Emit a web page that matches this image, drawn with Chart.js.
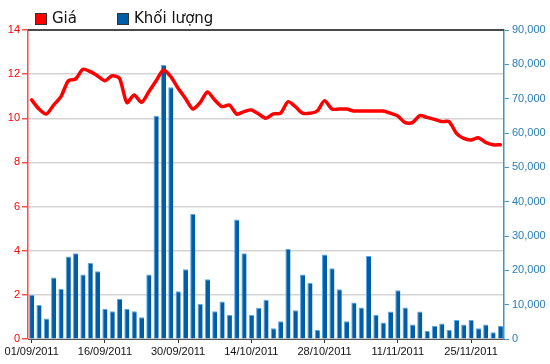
<!DOCTYPE html>
<html>
<head>
<meta charset="utf-8">
<script src="https://cdn.jsdelivr.net/npm/chart.js@4/dist/chart.umd.min.js"></script>
<style>
html,body{margin:0;padding:0;background:#fff;}
#wrap{width:550px;height:364px;position:relative;}
</style>
</head>
<body>
<div id="wrap"><canvas id="c" width="550" height="364"></canvas></div>
<script>
const dates = [
 "01/09/2011","05/09/2011","06/09/2011","07/09/2011","08/09/2011","09/09/2011",
 "12/09/2011","13/09/2011","14/09/2011","15/09/2011","16/09/2011",
 "19/09/2011","20/09/2011","21/09/2011","22/09/2011","23/09/2011",
 "26/09/2011","27/09/2011","28/09/2011","29/09/2011","30/09/2011",
 "03/10/2011","04/10/2011","05/10/2011","06/10/2011","07/10/2011",
 "10/10/2011","11/10/2011","12/10/2011","13/10/2011","14/10/2011",
 "17/10/2011","18/10/2011","19/10/2011","20/10/2011","21/10/2011",
 "24/10/2011","25/10/2011","26/10/2011","27/10/2011","28/10/2011",
 "31/10/2011","01/11/2011","02/11/2011","03/11/2011","04/11/2011",
 "07/11/2011","08/11/2011","09/11/2011","10/11/2011","11/11/2011",
 "14/11/2011","15/11/2011","16/11/2011","17/11/2011","18/11/2011",
 "21/11/2011","22/11/2011","23/11/2011","24/11/2011","25/11/2011",
 "28/11/2011","29/11/2011","30/11/2011","01/12/2011"
];
const priceLabel = "Giá";
const volumeLabel = "Khối lượng";
const price = [10.83,10.42,10.19,10.6,10.98,11.7,11.78,12.22,12.11,11.92,
 11.7,11.93,11.81,10.71,11.06,10.72,11.2,11.7,12.19,11.89,
 11.36,10.9,10.42,10.71,11.19,10.83,10.53,10.6,10.19,10.3,
 10.38,10.19,10.0,10.2,10.23,10.75,10.53,10.23,10.23,10.33,
 10.8,10.42,10.42,10.42,10.33,10.33,10.33,10.33,10.33,10.23,
 10.1,9.8,9.8,10.12,10.04,9.95,9.85,9.85,9.32,9.09,
 9.02,9.12,8.91,8.8,8.8];
const volume = [12800,9900,6000,17900,14600,24000,25000,18800,22200,19700,
 8800,8100,11700,8800,8100,6300,18800,65000,79800,73300,
 13900,20300,36500,10200,17400,8100,10900,7000,34800,25000,
 7000,9100,11400,3100,5200,26300,8400,18800,16400,2600,
 24600,20600,14500,5200,10600,9200,24200,7000,4800,8000,
 14200,9200,4200,8000,2300,3800,4500,2700,5500,4200,
 5500,3100,4200,2000,3800];
const labelStep = 10;

const RED = '#FF0000';
const BLUE = '#005DA6';
const AXISBLUE = '#3E95C6';

const frame = {
  id: 'frame',
  afterDatasetsDraw(chart) {
    const {ctx, chartArea: a} = chart;
    ctx.save();
    ctx.strokeStyle = '#4a4a4a';
    ctx.lineWidth = 2;
    ctx.beginPath();
    ctx.moveTo(a.left, a.top);
    ctx.lineTo(a.right, a.top);
    ctx.stroke();
    ctx.restore();
  },
  afterDraw(chart) {
    const ctx = chart.ctx;
    const items = [
      {x: 35, tx: 52, color: RED, text: chart.data.datasets[0].label},
      {x: 117, tx: 134, color: BLUE, text: chart.data.datasets[1].label}
    ];
    ctx.save();
    ctx.font = '15px "DejaVu Sans", sans-serif';
    ctx.textBaseline = 'middle';
    ctx.fillStyle = '#111';
    items.forEach(it => {
      ctx.fillStyle = it.color;
      ctx.fillRect(it.x, 13, 12, 12);
      ctx.strokeStyle = '#333';
      ctx.lineWidth = 1;
      ctx.strokeRect(it.x + 0.5, 13.5, 11, 11);
      ctx.fillStyle = '#111';
      ctx.fillText(it.text, it.tx, 19.5);
    });
    ctx.restore();
  }
};

new Chart(document.getElementById('c'), {
  data: {
    labels: dates,
    datasets: [
      {
        type: 'line',
        label: priceLabel,
        data: price,
        yAxisID: 'yP',
        borderColor: RED,
        backgroundColor: RED,
        borderWidth: 3.5,
        pointRadius: 0,
        tension: 0.25,
        borderJoinStyle: 'round',
        borderCapStyle: 'round',
        order: 0
      },
      {
        type: 'bar',
        label: volumeLabel,
        data: volume,
        yAxisID: 'yV',
        backgroundColor: BLUE,
        borderColor: '#5AA8E6',
        borderWidth: {top: 1, left: 1, right: 0, bottom: 0},
        borderSkipped: false,
        barPercentage: 0.7,
        categoryPercentage: 1,
        order: 1
      }
    ]
  },
  options: {
    responsive: false,
    animation: false,
    layout: {padding: {top: 30, left: 0, right: 0, bottom: 0}},
    plugins: {legend: {display: false}, tooltip: {enabled: false}},
    scales: {
      x: {
        type: 'category',
        offset: true,
        grid: {display: true, drawOnChartArea: false, offset: false, tickLength: 4, tickColor: '#333', lineWidth: 1},
        border: {display: true, color: '#555', width: 1},
        ticks: {
          autoSkip: false, maxRotation: 0, minRotation: 0, padding: 2,
          color: '#111', font: {size: 11, family: '"Liberation Sans", Arial, sans-serif'},
          callback: function(v, i) { return i % labelStep === 0 ? this.getLabelForValue(v) : null; }
        },
        afterFit(s) { s.height = 25; }
      },
      yP: {
        position: 'left',
        min: 0, max: 14,
        ticks: {stepSize: 2, color: RED, padding: 2, font: {size: 11, family: '"Liberation Sans", Arial, sans-serif'}},
        grid: {color: '#D4D4D4', lineWidth: 1.5, tickColor: '#FF5050', tickLength: 6},
        border: {display: true, color: '#FF4A4A', width: 1.5},
        afterFit(s) { s.width = 28; }
      },
      yV: {
        position: 'right',
        min: 0, max: 90000,
        ticks: {stepSize: 10000, color: '#2A7DB5', padding: 3, font: {size: 11, family: '"Liberation Sans", Arial, sans-serif'}},
        grid: {drawOnChartArea: false, tickColor: AXISBLUE, tickLength: 5},
        border: {display: true, color: AXISBLUE, width: 1.5},
        afterFit(s) { s.width = 46; }
      }
    }
  },
  plugins: [frame]
});
</script>
</body>
</html>
